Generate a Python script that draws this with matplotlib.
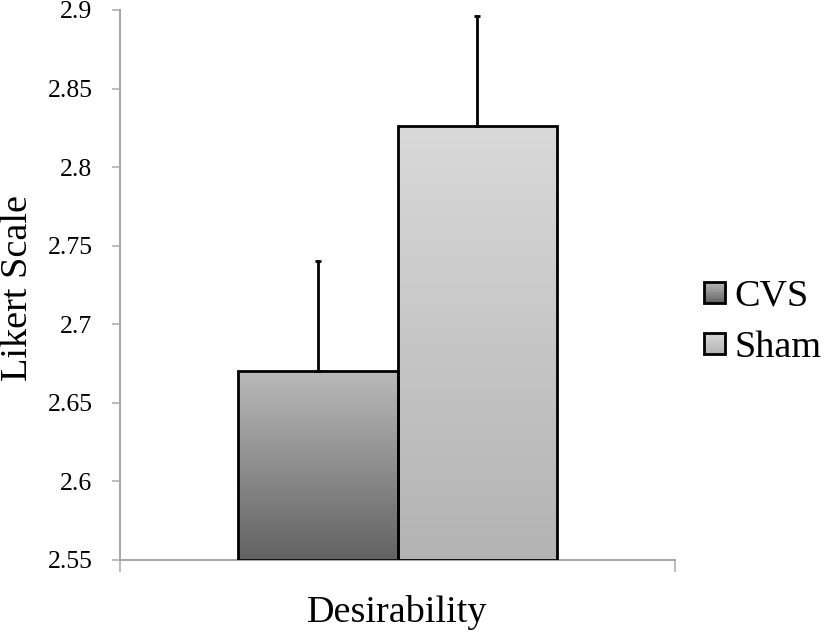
import matplotlib
matplotlib.use('Agg')
import matplotlib.pyplot as plt
import numpy as np
from matplotlib.colors import LinearSegmentedColormap
from matplotlib.legend_handler import HandlerBase
from matplotlib.patches import Rectangle

# ---- data ----
groups = ['CVS', 'Sham']
means = [2.670, 2.826]
sem = [0.070, 0.070]
category = 'Desirability'
y_ticks = [2.55, 2.6, 2.65, 2.7, 2.75, 2.8, 2.85, 2.9]
y_labels = ['2.55', '2.6', '2.65', '2.7', '2.75', '2.8', '2.85', '2.9']

# gradient (top, bottom) per series
shades = {'CVS': ('#bababa', '#626262'), 'Sham': ('#d9d9d9', '#b3b3b3')}
AXIS_GRAY = '#a8a8a8'
Y0 = 2.55

plt.rcParams['font.family'] = ['Liberation Serif', 'DejaVu Serif']


class Swatch:
    def __init__(self, top, bottom):
        self.top, self.bottom = top, bottom


class SwatchHandler(HandlerBase):
    # small square with the same vertical gradient as the bars
    def create_artists(self, legend, orig, xd, yd, width, height, fontsize, trans):
        side = min(width, height)
        x0, y0 = -xd, -yd + (height - side) / 2
        cmap = LinearSegmentedColormap.from_list('s', [orig.bottom, orig.top])
        n = 12
        arts = []
        for i in range(n):
            arts.append(Rectangle((x0, y0 + side * i / n), side, side / n,
                                  facecolor=cmap((i + 0.5) / n), edgecolor='none',
                                  transform=trans))
        arts.append(Rectangle((x0, y0), side, side, facecolor='none',
                              edgecolor='black', linewidth=2, transform=trans))
        return arts


fig = plt.figure(figsize=(8.27, 6.34), dpi=100)
ax = fig.add_axes([120 / 827, 1 - 560 / 634, 555 / 827, 550 / 634])

W = 0.2865
xs = [0.5 - W / 2, 0.5 + W / 2]
grad = np.linspace(0, 1, 256).reshape(-1, 1)
for x, m, g in zip(xs, means, groups):
    bar = ax.bar(x, m - Y0, W, bottom=Y0, facecolor='none', edgecolor='black',
                 linewidth=2, zorder=3)[0]
    top, bot = shades[g]
    cmap = LinearSegmentedColormap.from_list(g, [bot, top])
    im = ax.imshow(grad, cmap=cmap, origin='lower', aspect='auto',
                   extent=(x - W / 2, x + W / 2, Y0, m), zorder=2)
    im.set_clip_path(bar)

ax.errorbar(xs, means, yerr=[[0, 0], sem], fmt='none', ecolor='black',
            elinewidth=2, capsize=2.5, capthick=2, zorder=4)

ax.set_xlim(0, 1)
ax.set_ylim(Y0, 2.9)
ax.set_aspect('auto')

for s in ['top', 'right']:
    ax.spines[s].set_visible(False)
for s in ['left', 'bottom']:
    ax.spines[s].set_color(AXIS_GRAY)
    ax.spines[s].set_linewidth(1.5)

ax.set_yticks(y_ticks, y_labels)
ax.tick_params(axis='y', length=5.8, width=1.1, color=AXIS_GRAY,
               labelsize=18.5, pad=14)
ax.set_xticks([0, 1], ['', ''])
ax.tick_params(axis='x', which='major', length=8.6, width=1.1, color=AXIS_GRAY)
ax.set_xticks([0.5], [category], minor=True)
ax.tick_params(axis='x', which='minor', length=0, labelsize=27.5, pad=25)

fig.text(18 / 827, 1 - 288 / 634, 'Likert Scale', rotation=90,
         ha='center', va='center', fontsize=27.5)

handles = [Swatch(*shades[g]) for g in groups]
fig.legend(handles=handles, labels=groups, handler_map={Swatch: SwatchHandler()},
           loc='center left', bbox_to_anchor=(704 / 827, 1 - 322 / 634),
           frameon=False, fontsize=27.5, handlelength=0.55, handleheight=0.55,
           handletextpad=0.25, labelspacing=0.42, borderpad=0, borderaxespad=0)

fig.savefig('out.png', dpi=100)
